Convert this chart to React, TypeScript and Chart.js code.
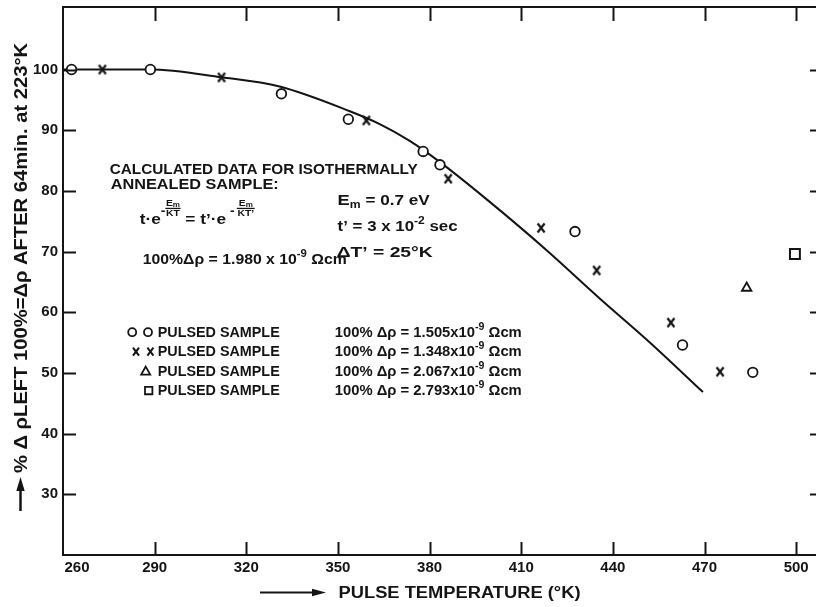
import React, { useEffect, useRef } from 'react';
import { Chart, registerables } from 'chart.js';

Chart.register(...registerables);

// ---------- data ----------
const xTicks = [260, 290, 320, 350, 380, 410, 440, 470, 500];
const yTicks = [30, 40, 50, 60, 70, 80, 90, 100];

// calculated curve (isothermally annealed sample)
const curveT = [260, 288.4, 311.9, 330.9, 353.9, 363.7, 373.5, 383.3, 399.7, 418.4, 435.7, 452.1, 469.5];
const curveV = [100, 100, 98.73, 97.2, 93.13, 91.01, 88.24, 84.78, 78.19, 70.19, 62.28, 55.03, 46.85];

// O O pulsed sample
const circleT = [262.8, 288.6, 331.5, 353.4, 377.9, 383.4, 427.6, 462.8, 485.8];
const circleV = [100, 100, 96.0, 91.8, 86.5, 84.3, 73.3, 54.6, 50.1];

// X X pulsed sample
const crossT = [272.9, 311.9, 359.3, 386.1, 416.5, 434.7, 459.0, 475.1];
const crossV = [100, 98.7, 91.6, 82.0, 73.9, 66.9, 58.3, 50.2];

// triangle pulsed sample
const triangleT = [483.8];
const triangleV = [64.0];

// square pulsed sample
const squareT = [499.6];
const squareV = [69.6];

const legendLabels = ['PULSED SAMPLE', 'PULSED SAMPLE', 'PULSED SAMPLE', 'PULSED SAMPLE'];
const legendRho = ['1.505', '1.348', '2.067', '2.793'];
const calcRho = '1.980';

// ---------- style ----------
const INK = '#141414';
const FONT = "'Liberation Sans', Arial, sans-serif";

type Run = { t: string; s: number; dy?: number };

function setFont(ctx: CanvasRenderingContext2D, s: number) {
  ctx.font = `bold ${s}px ${FONT}`;
}

function measureRuns(ctx: CanvasRenderingContext2D, runs: Run[]) {
  let total = 0;
  const widths = runs.map((r) => {
    setFont(ctx, r.s);
    const w = ctx.measureText(r.t).width;
    total += w;
    return w;
  });
  return { total, widths };
}

function drawRuns(ctx: CanvasRenderingContext2D, runs: Run[], x: number, y: number, fitW?: number) {
  const { total, widths } = measureRuns(ctx, runs);
  const sx = fitW ? fitW / total : 1;
  ctx.save();
  ctx.textAlign = 'left';
  ctx.textBaseline = 'alphabetic';
  ctx.translate(x, y);
  ctx.scale(sx, 1);
  let cx = 0;
  runs.forEach((r, i) => {
    setFont(ctx, r.s);
    ctx.fillText(r.t, cx, r.dy || 0);
    cx += widths[i];
  });
  ctx.restore();
  return total * sx;
}

type Item =
  | { kind: 'text'; runs: Run[]; dy?: number }
  | { kind: 'frac'; top: Run[]; bot: Run[] }
  | { kind: 'gap'; w: number };

function drawFormula(ctx: CanvasRenderingContext2D, items: Item[], x: number, y: number, fitW: number) {
  const widths = items.map((it) => {
    if (it.kind === 'text') return measureRuns(ctx, it.runs).total;
    if (it.kind === 'gap') return it.w;
    return Math.max(measureRuns(ctx, it.top).total, measureRuns(ctx, it.bot).total) + 1;
  });
  const total = widths.reduce((a, b) => a + b, 0);
  const sx = fitW / total;
  ctx.save();
  ctx.translate(x, y);
  ctx.scale(sx, 1);
  let cx = 0;
  items.forEach((it, i) => {
    const w = widths[i];
    if (it.kind === 'text') {
      drawRuns(ctx, it.runs, cx, it.dy || 0);
    } else if (it.kind === 'frac') {
      const tw = measureRuns(ctx, it.top).total;
      const bw = measureRuns(ctx, it.bot).total;
      drawRuns(ctx, it.top, cx + (w - tw) / 2, -18);
      drawRuns(ctx, it.bot, cx + (w - bw) / 2, -8);
      ctx.lineWidth = 1.3;
      ctx.beginPath();
      ctx.moveTo(cx, -16);
      ctx.lineTo(cx + w, -16);
      ctx.stroke();
    }
    cx += w;
  });
  ctx.restore();
}

function line(ctx: CanvasRenderingContext2D, x1: number, y1: number, x2: number, y2: number) {
  ctx.beginPath();
  ctx.moveTo(x1, y1);
  ctx.lineTo(x2, y2);
  ctx.stroke();
}

function drawMarker(ctx: CanvasRenderingContext2D, kind: string, cx: number, cy: number) {
  ctx.save();
  ctx.lineWidth = 1.8;
  ctx.beginPath();
  if (kind === 'circle') {
    ctx.arc(cx, cy, 4, 0, Math.PI * 2);
    ctx.stroke();
  } else if (kind === 'cross') {
    ctx.lineWidth = 2;
    line(ctx, cx - 3, cy - 4, cx + 3, cy + 4);
    line(ctx, cx + 3, cy - 4, cx - 3, cy + 4);
  } else if (kind === 'triangle') {
    ctx.moveTo(cx, cy - 4.5);
    ctx.lineTo(cx + 4.5, cy + 3.5);
    ctx.lineTo(cx - 4.5, cy + 3.5);
    ctx.closePath();
    ctx.stroke();
  } else if (kind === 'square') {
    ctx.rect(cx - 3.7, cy - 3.7, 7.4, 7.4);
    ctx.stroke();
  }
  ctx.restore();
}

// letter-like "X" point marker
function makeCrossImage() {
  const c = document.createElement('canvas');
  c.width = 10;
  c.height = 12;
  const g = c.getContext('2d')!;
  g.strokeStyle = INK;
  g.lineWidth = 2.2;
  g.lineCap = 'butt';
  g.beginPath();
  g.moveTo(1.5, 1.5);
  g.lineTo(8.5, 10.5);
  g.moveTo(8.5, 1.5);
  g.lineTo(1.5, 10.5);
  g.stroke();
  return c;
}

const framePlugin = {
  id: 'frame',
  afterDraw(chart: any) {
    const { ctx, chartArea: a, scales } = chart;
    const xs = scales.x;
    const ys = scales.y;
    const P = (T: number, V: number) => [xs.getPixelForValue(T), ys.getPixelForValue(V)] as [number, number];
    ctx.save();
    ctx.strokeStyle = INK;
    ctx.fillStyle = INK;
    ctx.lineCap = 'butt';

    // top border
    ctx.lineWidth = 2;
    line(ctx, a.left - 1, a.top, a.right, a.top);

    // inward ticks
    xTicks.forEach((v) => {
      const px = Math.round(xs.getPixelForValue(v)) + 0.5;
      if (v > xTicks[0]) {
        line(ctx, px, a.bottom, px, a.bottom - 13);
        line(ctx, px, a.top, px, a.top + 14);
      }
    });
    yTicks.forEach((v) => {
      const py = Math.round(ys.getPixelForValue(v)) + 0.5;
      line(ctx, a.left, py, a.left + 13, py);
      line(ctx, a.right - 6, py, a.right, py);
    });

    // first x tick label, set off the axis corner
    ctx.save();
    setFont(ctx, 15);
    ctx.textAlign = 'center';
    ctx.textBaseline = 'top';
    ctx.fillText(String(xTicks[0]), xs.getPixelForValue(xTicks[0]) + 14, a.bottom + 5);
    ctx.restore();

    // annotation block
    drawRuns(ctx, [{ t: 'CALCULATED DATA FOR ISOTHERMALLY', s: 15 }], ...P(275.3, 82.7), 308);
    drawRuns(ctx, [{ t: 'ANNEALED SAMPLE:', s: 15 }], ...P(275.6, 80.23), 168);

    const emTop: Run[] = [{ t: 'E', s: 9 }, { t: 'm', s: 7, dy: 1 }];
    const [fx, fy] = P(285.1, 74.47);
    drawFormula(
      ctx,
      [
        { kind: 'text', runs: [{ t: 't·e', s: 15 }] },
        { kind: 'text', runs: [{ t: '-', s: 12 }], dy: -9 },
        { kind: 'frac', top: emTop, bot: [{ t: 'KT', s: 9 }] },
        { kind: 'text', runs: [{ t: ' = t\u2019·e', s: 15 }] },
        { kind: 'text', runs: [{ t: ' -', s: 12 }], dy: -9 },
        { kind: 'gap', w: 2 },
        { kind: 'frac', top: emTop, bot: [{ t: 'KT\u2019', s: 9 }] },
      ],
      fx,
      fy,
      115
    );

    drawRuns(ctx, [{ t: 'E', s: 15 }, { t: 'm', s: 10, dy: 3 }, { t: ' = 0.7 eV', s: 14 }], ...P(349.9, 77.6), 92);
    drawRuns(ctx, [{ t: 't\u2019 = 3 x 10', s: 14 }, { t: '-2', s: 10, dy: -7 }, { t: ' sec', s: 14 }], ...P(349.9, 73.32), 120);
    drawRuns(ctx, [{ t: '\u0394T\u2019 = 25°K', s: 14 }], ...P(349.6, 69.03), 96);
    drawRuns(
      ctx,
      [{ t: `100%\u0394\u03C1 = ${calcRho} x 10`, s: 14 }, { t: '-9', s: 10, dy: -7 }, { t: ' \u03A9cm', s: 14 }],
      ...P(286.1, 67.88),
      204
    );

    // legend block
    const [xL, y0] = P(291.0, 55.97);
    const xR = P(348.96, 0)[0];
    const step = 19.45;
    const kinds = ['circle', 'cross', 'triangle', 'square'];
    legendLabels.forEach((lab, i) => {
      const by = y0 + i * step;
      const my = by - 4.5;
      if (kinds[i] === 'circle') {
        drawMarker(ctx, 'circle', xL - 25.5, my);
        drawMarker(ctx, 'circle', xL - 9.7, my);
      } else if (kinds[i] === 'cross') {
        drawMarker(ctx, 'cross', xL - 21.7, my);
        drawMarker(ctx, 'cross', xL - 7.3, my);
      } else if (kinds[i] === 'triangle') {
        drawMarker(ctx, 'triangle', xL - 12, my);
      } else {
        drawMarker(ctx, 'square', xL - 9, my);
      }
      drawRuns(ctx, [{ t: lab, s: 14 }], xL, by, 122);
      drawRuns(
        ctx,
        [{ t: `100% \u0394\u03C1 = ${legendRho[i]}x10`, s: 14 }, { t: '-9', s: 10, dy: -7 }, { t: ' \u03A9cm', s: 14 }],
        xR,
        by,
        187
      );
    });

    // y axis title (rotated) with arrow
    ctx.save();
    ctx.translate(20.5, 473);
    ctx.rotate(-Math.PI / 2);
    drawRuns(ctx, [{ t: '% \u0394 \u03C1LEFT 100%=\u0394\u03C1 AFTER 64min. at 223°K', s: 18 }], 0, 6.5, 430);
    ctx.restore();
    ctx.lineWidth = 2.5;
    line(ctx, 20.5, 511, 20.5, 488);
    ctx.beginPath();
    ctx.moveTo(20.5, 477);
    ctx.lineTo(16.3, 491);
    ctx.lineTo(24.7, 491);
    ctx.closePath();
    ctx.fill();

    // x axis title with arrow
    ctx.lineWidth = 2;
    line(ctx, 260, 592.5, 316, 592.5);
    ctx.beginPath();
    ctx.moveTo(326, 592.5);
    ctx.lineTo(312, 588.8);
    ctx.lineTo(312, 596.2);
    ctx.closePath();
    ctx.fill();
    drawRuns(ctx, [{ t: 'PULSE TEMPERATURE (°K)', s: 16 }], 338.5, 598.3, 242);

    ctx.restore();
  },
};

const pts = (xs: number[], ys: number[]) => xs.map((x, i) => ({ x, y: ys[i] }));

export default function App() {
  const ref = useRef<HTMLCanvasElement>(null);
  useEffect(() => {
    document.body.style.margin = '0';
    const canvas = ref.current!;
    const tickFont = { family: FONT, size: 15, weight: 'bold' as const };
    const crossImg = makeCrossImage();
    const chart = new Chart(canvas, {
      type: 'scatter',
      data: {
        datasets: [
          {
            label: 'O O',
            data: pts(circleT, circleV),
            pointStyle: 'circle',
            pointRadius: 4.8,
            pointBorderWidth: 1.8,
            pointBackgroundColor: '#fff',
            pointBorderColor: INK,
            order: 1,
          },
          {
            label: 'X X',
            data: pts(crossT, crossV),
            pointStyle: crossImg as any,
            pointRadius: 5,
            order: 2,
          },
          {
            label: 'triangle',
            data: pts(triangleT, triangleV),
            pointStyle: 'triangle',
            pointRadius: 5.5,
            pointBorderWidth: 1.8,
            pointBackgroundColor: '#fff',
            pointBorderColor: INK,
            order: 3,
          },
          {
            label: 'square',
            data: pts(squareT, squareV),
            pointStyle: 'rect',
            pointRadius: 7,
            pointBorderWidth: 2,
            pointBackgroundColor: '#fff',
            pointBorderColor: INK,
            order: 4,
          },
          {
            label: 'calculated',
            data: pts(curveT, curveV),
            showLine: true,
            pointRadius: 0,
            borderColor: INK,
            borderWidth: 2,
            cubicInterpolationMode: 'monotone',
            fill: false,
            order: 10,
          } as any,
        ],
      },
      options: {
        responsive: false,
        animation: false,
        devicePixelRatio: 1,
        layout: { autoPadding: false, padding: { top: 7, right: 0, bottom: 0, left: 0 } },
        plugins: { legend: { display: false }, tooltip: { enabled: false } },
        scales: {
          x: {
            type: 'linear',
            min: 260,
            max: 506.5,
            grid: { display: false, drawTicks: false },
            border: { display: true, color: INK, width: 2 },
            ticks: {
              color: INK,
              font: tickFont,
              padding: 4,
              maxRotation: 0,
              autoSkip: false,
              callback: (v: any) => (v === xTicks[0] ? '' : String(v)),
            },
            afterBuildTicks: (s: any) => {
              s.ticks = xTicks.map((v) => ({ value: v }));
            },
            afterFit: (s: any) => {
              s.height = 52;
              s.paddingLeft = 0;
              s.paddingRight = 0;
            },
          },
          y: {
            type: 'linear',
            min: 20,
            max: 110.3,
            grid: { display: false, drawTicks: false },
            border: { display: true, color: INK, width: 2 },
            ticks: { color: INK, font: tickFont, padding: 5, autoSkip: false },
            afterBuildTicks: (s: any) => {
              s.ticks = yTicks.map((v) => ({ value: v }));
            },
            afterFit: (s: any) => {
              s.width = 63;
              s.paddingTop = 0;
              s.paddingBottom = 0;
            },
          },
        },
      },
      plugins: [framePlugin],
    });
    return () => chart.destroy();
  }, []);
  return (
    <div style={{ width: 816, height: 607, background: '#fff' }}>
      <canvas ref={ref} width={816} height={607} style={{ display: 'block' }} />
    </div>
  );
}
